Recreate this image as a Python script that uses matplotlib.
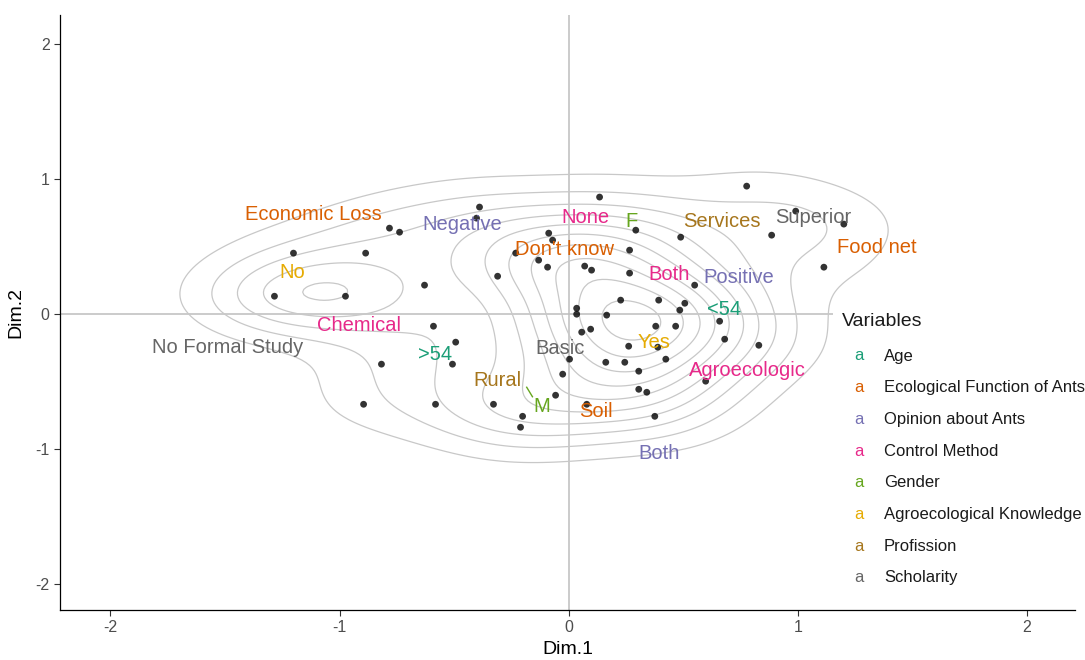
import numpy as np
import matplotlib.pyplot as plt
from matplotlib.patches import Rectangle

plt.rcParams['font.family'] = ['Liberation Sans', 'DejaVu Sans']
plt.rcParams['axes.unicode_minus'] = False

# individuals (Dim.1, Dim.2); n_ind = how many respondents share the spot
ind_x = [-1.284, -1.201, -0.974, -0.886, -0.782, -0.738, -0.629, -0.389, -0.402,
         -0.087, -0.070, -0.231, -0.131, -0.092, -0.310, 0.070, 0.035, 0.035,
         0.057, -0.590, -0.493, -0.507, -0.817, -0.895, -0.581, -0.328, -0.201,
         -0.210, 0.004, -0.026, -0.057, 0.079, 0.777, 0.135, 0.991, 1.201,
         0.293, 0.489, 0.886, 0.266, 0.100, 0.266, 0.550, 1.114, 0.227, 0.393,
         0.507, 0.485, 0.166, 0.659, 0.467, 0.380, 0.096, 0.681, 0.830, 0.262,
         0.389, 0.162, 0.245, 0.424, 0.306, 0.598, 0.306, 0.341, 0.376]
ind_y = [0.133, 0.452, 0.133, 0.452, 0.637, 0.607, 0.215, 0.793, 0.711,
         0.600, 0.548, 0.452, 0.400, 0.348, 0.281, 0.356, 0.044, 0.000,
         -0.133, -0.089, -0.207, -0.370, -0.370, -0.667, -0.667, -0.667, -0.756,
         -0.837, -0.333, -0.444, -0.600, -0.667, 0.948, 0.867, 0.763, 0.667,
         0.622, 0.570, 0.585, 0.474, 0.326, 0.304, 0.215, 0.348, 0.104, 0.104,
         0.081, 0.030, -0.007, -0.052, -0.089, -0.089, -0.111, -0.185, -0.230, -0.237,
         -0.244, -0.356, -0.356, -0.333, -0.422, -0.496, -0.556, -0.578, -0.756]
n_ind = [4, 1, 4, 1, 1, 1, 1, 1, 1,
         1, 1, 1, 1, 2, 1, 1, 1, 2,
         1, 1, 1, 1, 1, 1, 1, 1, 2,
         1, 1, 1, 1, 1, 1, 1, 1, 1,
         2, 1, 1, 1, 2, 1, 2, 1, 1, 1,
         1, 1, 2, 1, 2, 1, 1, 1, 1, 1,
         1, 1, 1, 1, 1, 1, 1, 1, 2]

# category labels
variables = ['Age', 'Ecological Function of Ants', 'Opinion about Ants', 'Control Method',
             'Gender', 'Agroecological Knowledge', 'Profission', 'Scholarity']
var_colors = ['#1B9E77', '#D95F02', '#7570B3', '#E7298A',
              '#66A61E', '#E6AB02', '#A6761D', '#666666']

cat_label = ['<54', '>54',
             'Economic Loss', 'Food net', 'Soil', "Don't know",
             'Negative', 'Positive', 'Both',
             'None', 'Both', 'Chemical', 'Agroecologic',
             'F', 'M',
             'No', 'Yes',
             'Rural', 'Services',
             'Superior', 'No Formal Study', 'Basic']
cat_var = [0, 0, 1, 1, 1, 1, 2, 2, 2, 3, 3, 3, 3, 4, 4, 5, 5, 6, 6, 7, 7, 7]
cat_x = [0.677, -0.585, -1.114, 1.345, 0.118, -0.017, -0.463, 0.742, 0.393,
         0.074, 0.437, -0.913, 0.782, 0.275, -0.118, -1.205, 0.371, -0.310, 0.668,
         1.066, -1.489, -0.039]
cat_y = [0.037, -0.296, 0.741, 0.496, -0.719, 0.481, 0.667, 0.274, -1.030,
         0.719, 0.296, -0.081, -0.415, 0.689, -0.681, 0.311, -0.207, -0.489, 0.689,
         0.719, -0.244, -0.252]
# repelled label: original position of "M"
repel_idx = 14
repel_x, repel_y = -0.183, -0.541

N_LEVELS = 10
BW_ADJUST = 1.1


def kde2d(x, y, w, gx, gy):
    # gaussian kernel density, bandwidth as MASS::bandwidth.nrd / 4
    x = np.repeat(x, w)
    y = np.repeat(y, w)
    n = len(x)

    def bw(v):
        q75, q25 = np.percentile(v, [75, 25])
        return BW_ADJUST * 1.06 * min(np.std(v, ddof=1), (q75 - q25) / 1.34) * n ** (-0.2)

    hx, hy = bw(x), bw(y)
    kx = np.exp(-0.5 * ((gx[:, None] - x[None, :]) / hx) ** 2) / (np.sqrt(2 * np.pi) * hx)
    ky = np.exp(-0.5 * ((gy[:, None] - y[None, :]) / hy) ** 2) / (np.sqrt(2 * np.pi) * hy)
    return ky @ kx.T / n


fig = plt.figure(figsize=(10.85, 6.6), dpi=100)
ax = fig.add_axes([60 / 1085, 50 / 660, 1015 / 1085, 595 / 660])

gx = np.linspace(-2.22, 2.21, 220)
gy = np.linspace(-2.19, 2.215, 220)
dens = kde2d(ind_x, ind_y, n_ind, gx, gy)
step = dens.max() / (N_LEVELS + 0.5)
levels = step * np.arange(1, N_LEVELS + 1)
ax.contour(gx, gy, dens, levels=levels, colors='#C8C8C8', linewidths=0.9, zorder=1)

ax.axhline(0, color='#BDBDBD', lw=1.1, zorder=0.5)
ax.axvline(0, color='#BDBDBD', lw=1.1, zorder=0.5)

ax.scatter(ind_x, ind_y, s=24, color='black', alpha=0.8, edgecolors='none', zorder=3)

for i, lab in enumerate(cat_label):
    col = var_colors[cat_var[i]]
    ax.text(cat_x[i], cat_y[i], lab, color=col, fontsize=14.5,
            ha='center', va='center', zorder=4)
ax.plot([repel_x, cat_x[repel_idx] - 0.04], [repel_y, cat_y[repel_idx] + 0.07],
        color=var_colors[cat_var[repel_idx]], lw=1, zorder=4)

ax.set_xlim(-2.22, 2.21)
ax.set_ylim(-2.19, 2.215)
ax.set_xticks([-2, -1, 0, 1, 2])
ax.set_yticks([-2, -1, 0, 1, 2])
ax.tick_params(colors='#333333', labelcolor='#4D4D4D', labelsize=11.5, length=4, width=0.8)
for s in ['top', 'right']:
    ax.spines[s].set_visible(False)
for s in ['left', 'bottom']:
    ax.spines[s].set_linewidth(0.9)
ax.set_xlabel('Dim.1', fontsize=14, labelpad=4)
ax.set_ylabel('Dim.2', fontsize=14, labelpad=8)

# legend
W, H = 1085.0, 660.0
fig.patches.append(Rectangle((833 / W, 1 - 600 / H), 252 / W, 298 / H,
                             transform=fig.transFigure, facecolor='white',
                             edgecolor='none', zorder=5))
fig.text(842 / W, 1 - 321 / H, 'Variables', fontsize=14, color='#1A1A1A',
         ha='left', va='center', zorder=6)
for i, v in enumerate(variables):
    yy = 1 - (356 + i * 31.7) / H
    fig.text(859 / W, yy, 'a', fontsize=12, color=var_colors[i],
             ha='center', va='center', zorder=6)
    fig.text(884 / W, yy, v, fontsize=12, color='#1A1A1A',
             ha='left', va='center', zorder=6)

fig.savefig('out.png', dpi=100)
